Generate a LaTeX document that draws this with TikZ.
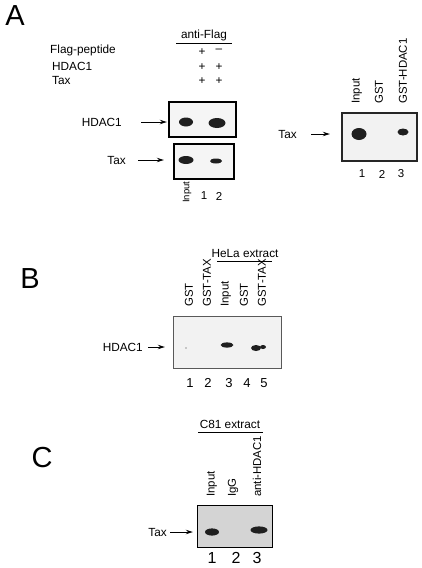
\documentclass[tikz,border=0pt]{standalone}
\usepackage{fontspec}
\setmainfont{Liberation Sans}
\usetikzlibrary{arrows.meta}
\tikzset{
  lbl/.style={inner sep=0pt, font=\fontsize{11.8}{13}\selectfont},
  rlbl/.style={inner sep=0pt, font=\fontsize{11.4}{13}\selectfont, rotate=90, anchor=west},
  num/.style={inner sep=0pt, font=\fontsize{11.5}{13}\selectfont},
  numB/.style={inner sep=0pt, font=\fontsize{13}{15}\selectfont},
  numC/.style={inner sep=0pt, font=\fontsize{16}{18}\selectfont},
  panel/.style={inner sep=0pt, font=\fontsize{29}{32}\selectfont},
  arr/.style={line width=0.9pt, -{Stealth[length=7pt,width=4.5pt]}},
  band/.style={fill=black!88, draw=none},
  blot/.style={fill=black!4, draw=black},
}
\begin{document}
\begin{tikzpicture}[x=1pt,y=-1pt]
\useasboundingbox (0,0) rectangle (421,568);
% ---------- Panel A ----------
\node[panel] (pA) at (15,16) {A};
\node[lbl] (aflag) at (204,35) {anti-Flag};
\coordinate (afl1) at (176,43);
\coordinate (afl2) at (232,43);
\draw[line width=0.8pt] (afl1) -- (afl2);
\node[lbl, anchor=west] (fp) at (50,50) {Flag-peptide};
\node[lbl, anchor=west] (hd) at (52,66) {HDAC1};
\node[lbl, anchor=west] (tx) at (52,80) {Tax};
\node[lbl] (p11) at (202,52) {+};
\node[lbl] (p12) at (219,51) {–};
\node[lbl] (p21) at (202,67) {+};
\node[lbl] (p22) at (219,67) {+};
\node[lbl] (p31) at (202,81) {+};
\node[lbl] (p32) at (219,81) {+};
% blots
\draw[blot, line width=2pt] (169,102) rectangle (236,137);
\node[inner sep=0pt, minimum width=67pt, minimum height=35pt] (boxH) at (202.5,119.5) {};
\draw[blot, line width=1.5pt] (174,144) rectangle (234,179);
\node[inner sep=0pt, minimum width=60pt, minimum height=35pt] (boxT) at (204,161.5) {};
\fill[band] (186,122) ellipse [x radius=7, y radius=4.5];
\fill[band] (217,123) ellipse [x radius=8.5, y radius=5];
\fill[band] (186,160) ellipse [x radius=7.5, y radius=4];
\fill[band] (216,161) ellipse [x radius=6, y radius=2.5];
\node[lbl, anchor=east] (lH) at (122,122) {HDAC1};
\node[lbl, anchor=east] (lT) at (126,160) {Tax};
\draw[arr, shorten <=19pt, shorten >=2pt] (lH.east) -- (lH.east -| boxH.west);
\draw[arr, shorten <=12pt, shorten >=10pt] (lT.east) -- (lT.east -| boxT.west);
\node[rlbl, font=\fontsize{9.5}{11}\selectfont] (inA) at (187,203) {Input};
\node[num] (nA1) at (204,196) {1};
\node[num] (nA2) at (219,196) {2};
% right blot
\draw[fill=black!5, draw=black!85, line width=1.2pt] (342,113) rectangle (417,161);
\node[inner sep=0pt, minimum width=75pt, minimum height=48pt] (boxR) at (379.5,137) {};
\node[rlbl] (rl1) at (357,104) {Input};
\node[rlbl] (rl2) at (379,104) {GST};
\node[rlbl] (rl3) at (403,104) {GST-HDAC1};
\fill[band] (359,134) ellipse [x radius=7.5, y radius=6];
\fill[band] (403,132) ellipse [x radius=5.5, y radius=3.5];
\node[lbl, anchor=east] (lR) at (297,134) {Tax};
\draw[arr, shorten <=14pt, shorten >=12pt] (lR.east) -- (lR.east -| boxR.west);
\node[num] (nR1) at (362,174) {1};
\node[num] (nR2) at (382,174) {2};
\node[num] (nR3) at (401,174) {3};
% ---------- Panel B ----------
\node[panel] (pB) at (30,279) {B};
\node[lbl] (hela) at (245,253) {HeLa extract};
\coordinate (hl1) at (217,261);
\coordinate (hl2) at (272,261);
\draw[line width=0.8pt] (hl1) -- (hl2);
\node[rlbl] (b1) at (189,307) {GST};
\node[rlbl] (b2) at (207,307) {GST-TAX};
\node[rlbl] (b3) at (226,307) {Input};
\node[rlbl] (b4) at (244,307) {GST};
\node[rlbl] (b5) at (262,307) {GST-TAX};
\draw[fill=black!5, draw=black!65, line width=1pt] (173,316) rectangle (281,368);
\node[inner sep=0pt, minimum width=108pt, minimum height=52pt] (boxB) at (227,342) {};
\fill[black!40] (186,348) circle [radius=0.8];
\fill[band] (227,345) ellipse [x radius=6.5, y radius=2.6];
\fill[band] (256,348) ellipse [x radius=5, y radius=3];
\fill[band] (263,347) ellipse [x radius=3, y radius=2];
\node[lbl, anchor=east] (lB) at (143,347) {HDAC1};
\draw[arr, shorten <=5pt, shorten >=8pt] (lB.east) -- (lB.east -| boxB.west);
\node[numB] (nB1) at (190,383) {1};
\node[numB] (nB2) at (208,383) {2};
\node[numB] (nB3) at (229,383) {3};
\node[numB] (nB4) at (247,383) {4};
\node[numB] (nB5) at (264,383) {5};
% ---------- Panel C ----------
\node[panel] (pC) at (42,458) {C};
\node[lbl] (c81) at (230,424) {C81 extract};
\coordinate (cl1) at (198,432);
\coordinate (cl2) at (263,432);
\draw[line width=0.8pt] (cl1) -- (cl2);
\node[rlbl] (c1) at (212,497) {Input};
\node[rlbl] (c2) at (233,497) {IgG};
\node[rlbl] (c3) at (257,497) {anti-HDAC1};
\draw[fill=black!17, draw=black, line width=1pt] (197,505) rectangle (272,547);
\node[inner sep=0pt, minimum width=75pt, minimum height=42pt] (boxC) at (234.5,526) {};
\fill[band] (212,532) ellipse [x radius=7, y radius=3.6];
\fill[band] (259,530) ellipse [x radius=8.5, y radius=3.6];
\node[lbl, anchor=east] (lC) at (167,532) {Tax};
\draw[arr, shorten <=3pt, shorten >=4pt] (lC.east) -- (lC.east -| boxC.west);
\node[numC] (nC1) at (212,558) {1};
\node[numC] (nC2) at (236,558) {2};
\node[numC] (nC3) at (257,558) {3};
\end{tikzpicture}
\end{document}
